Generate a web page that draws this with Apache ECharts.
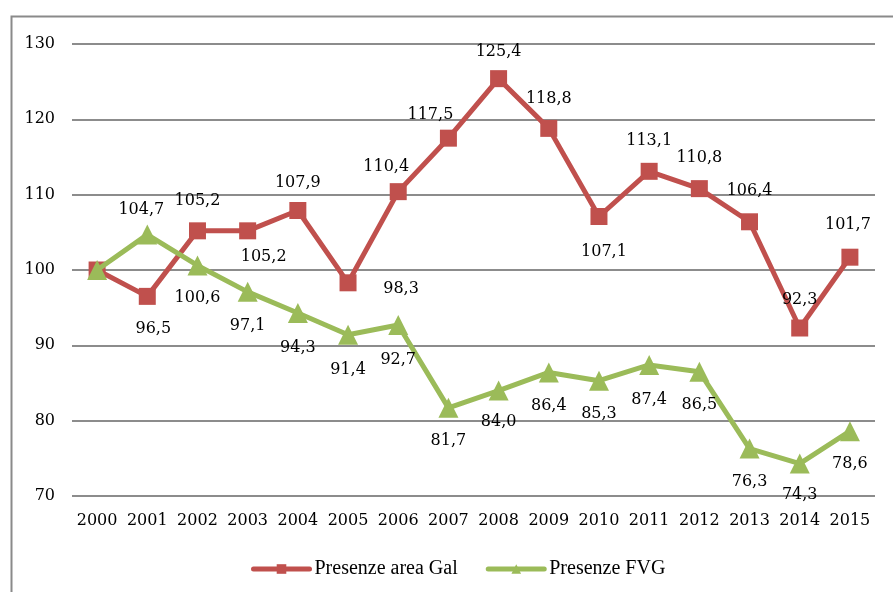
<!DOCTYPE html>
<html>
<head>
<meta charset="utf-8">
<script src="https://cdn.jsdelivr.net/npm/echarts@6/dist/echarts.min.js"></script>
<style>
  html, body { margin: 0; padding: 0; background: #fff; }
  #chart { width: 893px; height: 592px; }
</style>
</head>
<body>
<div id="chart"></div>
<script>
// anni
let years = ['2000', '2001', '2002', '2003', '2004', '2005', '2006', '2007',
  '2008', '2009', '2010', '2011', '2012', '2013', '2014', '2015']
// valori
let gal = [100, 96.5, 105.2, 105.2, 107.9, 98.3, 110.4, 117.5, 125.4, 118.8, 107.1, 113.1, 110.8, 106.4, 92.3, 101.7]
let fvg = [100, 104.7, 100.6, 97.1, 94.3, 91.4, 92.7, 81.7, 84.0, 86.4, 85.3, 87.4, 86.5, 76.3, 74.3, 78.6]
let yTicks = [70, 80, 90, 100, 110, 120, 130]

// spostamento delle etichette rispetto al punto (px), null = nessuna etichetta
let galLabelOffsets = [null, [6, 32], [0, -30], [16, 26], [0, -28], [53, 6], [-12, -25], [-18, -23],
  [0, -27], [0, -30], [5, 35], [0, -30], [0, -31], [0, -31], [0, -28], [-2, -32]]
let fvgLabelOffsets = [null, [-6, -25], [0, 32], [0, 34], [0, 35], [0, 35], [0, 35], [0, 33],
  [0, 31], [0, 33], [0, 33], [0, 35], [0, 33], [0, 33], [0, 31], [0, 33]]

function buildData (values, offsets) {
  return values.map(function (v, i) {
    let item = { value: v }
    if (offsets[i] === null) {
      item.label = { show: false }
    } else {
      item.label = { show: true, position: 'inside', offset: offsets[i] }
    }
    return item
  })
}

let labelStyle = {
  show: true,
  color: '#000',
  fontFamily: 'DejaVu Serif',
  fontSize: 16,
  formatter: function (p) {
    return p.value.toFixed(1).replace('.', ',')
  }
}

let myChart = echarts.init(document.getElementById('chart'))
let option = {
  animation: false,
  backgroundColor: '#fff',
  graphic: [{
    type: 'rect',
    left: 9,
    top: 14,
    shape: { width: 920, height: 620 },
    style: { fill: 'none', stroke: '#8a8a8a', lineWidth: 2 },
    silent: true
  }],
  grid: {
    left: 72,
    right: 18,
    top: 44,
    bottom: 96
  },
  legend: {
    left: 246,
    top: 554,
    itemWidth: 56,
    itemHeight: 12,
    itemGap: 28,
    lineStyle: { width: 5, cap: 'round' },
    textStyle: {
      fontFamily: 'Liberation Serif',
      fontSize: 20,
      color: '#000'
    },
    data: ['Presenze area Gal', 'Presenze FVG']
  },
  xAxis: {
    type: 'category',
    data: years,
    boundaryGap: true,
    axisLine: { show: false },
    axisTick: { show: false },
    axisLabel: {
      interval: 0,
      margin: 17,
      color: '#000',
      fontFamily: 'DejaVu Serif',
      fontSize: 16
    }
  },
  yAxis: {
    type: 'value',
    min: yTicks[0],
    max: yTicks[yTicks.length - 1],
    interval: 10,
    axisLine: { show: false },
    axisTick: { show: false },
    axisLabel: {
      margin: 17,
      color: '#000',
      fontFamily: 'DejaVu Serif',
      fontSize: 16
    },
    splitLine: {
      lineStyle: { color: '#8c8c8c', width: 2 }
    }
  },
  series: [{
    name: 'Presenze area Gal',
    type: 'line',
    data: buildData(gal, galLabelOffsets),
    symbol: 'rect',
    symbolSize: 17,
    color: '#C0504D',
    lineStyle: { width: 5, color: '#C0504D' },
    itemStyle: { color: '#C0504D' },
    label: labelStyle,
    z: 3
  }, {
    name: 'Presenze FVG',
    type: 'line',
    data: buildData(fvg, fvgLabelOffsets),
    symbol: 'triangle',
    symbolSize: 20,
    color: '#9BBB59',
    lineStyle: { width: 5, color: '#9BBB59' },
    itemStyle: { color: '#9BBB59' },
    label: labelStyle,
    z: 4
  }]
}
myChart.setOption(option)
</script>
</body>
</html>
